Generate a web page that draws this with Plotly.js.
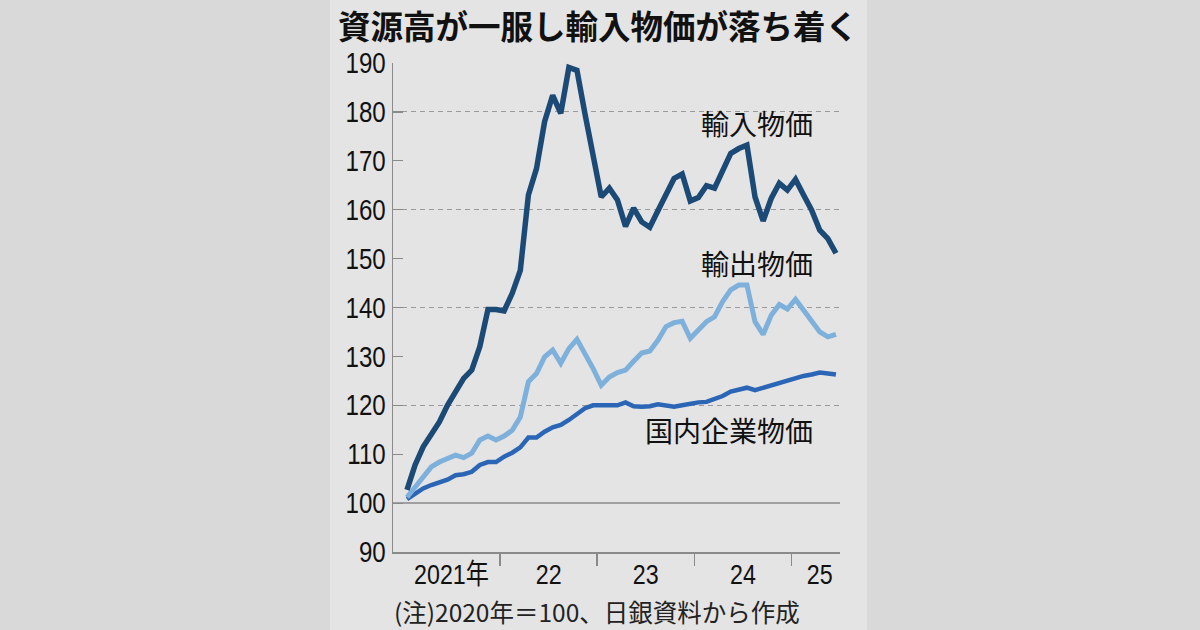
<!DOCTYPE html>
<html>
<head>
<meta charset="utf-8">
<script src="https://cdn.plot.ly/plotly-3.0.1.min.js"></script>
<style>
html,body{margin:0;padding:0;background:#d9d9d9;}
#chart{width:1200px;height:630px;}
</style>
</head>
<body>
<div id="chart"></div>
<script>
// Months from Jan 2021 (index 0) to Jun 2025 (index 53)
const monthIndex = Array.from({length: 54}, (_, i) => i);

const importPrice = [
  102.7, 107.8, 111.5, 114.3, 116.6, 120.0, 122.8, 125.5, 127.2, 132.0, 139.6, 139.6,
  139.3, 142.9, 147.6, 163.0, 168.4, 178.0, 183.4, 179.7, 189.1, 188.5, 179.5, 171.0,
  162.6, 164.4, 162.0, 156.6, 160.3, 157.5, 156.4, 159.8, 163.2, 166.4, 167.3, 161.8,
  162.5, 164.9, 164.4, 168.1, 171.5, 172.5, 173.2, 162.6, 157.7, 162.3, 165.4, 164.0,
  166.2, 163.0, 159.9, 155.8, 154.1, 151.1
];

const exportPrice = [
  101.2, 103.3, 105.7, 107.4, 108.4, 109.1, 109.8, 109.3, 110.2, 112.9, 113.7, 112.9,
  113.7, 114.9, 117.6, 124.8, 126.5, 129.9, 131.3, 128.6, 131.6, 133.5, 130.6, 127.5,
  124.1, 125.8, 126.7, 127.2, 129.0, 130.7, 131.1, 133.3, 136.1, 136.9, 137.2, 133.7,
  135.4, 137.1, 138.1, 141.2, 143.6, 144.6, 144.6, 137.1, 134.5, 138.4, 140.6, 139.7,
  141.7, 139.5, 137.4, 135.0, 134.0, 134.5
];

const domesticPrice = [
  100.8, 102.0, 103.0, 103.7, 104.2, 104.8, 105.7, 105.9, 106.4, 107.8, 108.4, 108.4,
  109.5, 110.3, 111.4, 113.4, 113.4, 114.6, 115.5, 116.0, 117.0, 118.2, 119.4, 120.0,
  120.0, 119.8, 120.0, 120.6, 119.8, 119.7, 119.8, 120.2, 119.9, 119.7, 120.0, 120.4,
  120.6, 120.7, 121.3, 121.9, 122.8, 123.1, 123.6, 123.1, 123.6, 124.1, 124.7, 125.2,
  125.6, 126.0, 126.3, 126.7, 126.5, 126.3
];

const seriesNames = ['輸入物価', '輸出物価', '国内企業物価'];
const yearLabels = ['2021年', '22', '23', '24', '25'];
const yearLabelPos = [5.5, 17.5, 29.5, 41.5, 51];
const yearBoundaries = [11.5, 23.5, 35.5, 47.5];
const yTicks = [90, 100, 110, 120, 130, 140, 150, 160, 170, 180, 190];
const dashedGrid = [120, 140, 160, 180];

const titleText = '資源高が一服し輸入物価が落ち着く';
const noteText = '(注)2020年＝100、日銀資料から作成';

const tickFamily = '"Liberation Sans", Arial, "Noto Sans CJK JP", sans-serif';
const jp = '"Noto Sans CJK JP", "Noto Sans", sans-serif';

const traces = [
  {x: [0], y: [100], yaxis: 'y2', mode: 'lines', hoverinfo: 'skip', showlegend: false, line: {width: 0}},
  {x: monthIndex, y: domesticPrice, mode: 'lines', name: seriesNames[2],
   line: {color: '#2a66b5', width: 4.5}},
  {x: monthIndex, y: exportPrice, mode: 'lines', name: seriesNames[1],
   line: {color: '#7eb0dc', width: 5}},
  {x: monthIndex, y: importPrice, mode: 'lines', name: seriesNames[0],
   line: {color: '#1c4a76', width: 5.5}}
];

const L = 393, R = 840, T = 63, B = 552;
const px = v => (v - L) / (R - L);
const py = v => (B - v) / (B - T);

const shapes = [
  {type: 'rect', xref: 'paper', yref: 'paper', x0: px(330), x1: px(867), y0: py(640), y1: py(-10),
   fillcolor: '#e4e4e4', line: {width: 0}, layer: 'below'},
  {type: 'line', xref: 'paper', yref: 'y', x0: 0, x1: 1, y0: 100, y1: 100,
   line: {color: '#8a8a8a', width: 1.5}, layer: 'below'}
];

const layout = {
  width: 1200, height: 630,
  margin: {l: L, r: 1200 - R, t: T, b: 630 - B, pad: 0},
  paper_bgcolor: '#d9d9d9',
  plot_bgcolor: 'rgba(0,0,0,0)',
  showlegend: false,
  xaxis: {
    range: [-1.73, 53.5], fixedrange: true,
    tickvals: yearLabelPos, ticktext: yearLabels, ticks: '',
    tickfont: {family: tickFamily, size: 28, color: '#111'},
    showline: true, linecolor: '#8a8a8a', linewidth: 1.5,
    showgrid: false, zeroline: false, ticklabelstandoff: -3,
    minor: {tickvals: yearBoundaries, ticks: 'outside', ticklen: 12, tickcolor: '#8a8a8a', tickwidth: 1.5, showgrid: false}
  },
  yaxis: {
    range: [90, 190], fixedrange: true,
    tickvals: yTicks, ticks: 'inside', ticklen: 10, tickcolor: '#8a8a8a', tickwidth: 1.2,
    tickfont: {family: tickFamily, size: 29, color: '#111'},
    showline: true, linecolor: '#8a8a8a', linewidth: 1.5,
    showgrid: false, zeroline: false, ticklabelstandoff: 0
  },
  yaxis2: {
    range: [90, 190], overlaying: 'y', fixedrange: true,
    tickvals: dashedGrid, showticklabels: false, ticks: '',
    showgrid: true, gridcolor: '#9a9a9a', gridwidth: 1, griddash: '5px,4px',
    showline: false, zeroline: false
  },
  shapes: shapes,
  annotations: [
    {xref: 'paper', yref: 'paper', x: px(336), y: py(24), text: '<b>' + titleText + '</b>', showarrow: false,
     xanchor: 'left', yanchor: 'middle', font: {family: jp, size: 32.5, color: '#111'}},
    {xref: 'x', yref: 'y', x: 50.4, y: 177.7, text: seriesNames[0], showarrow: false,
     xanchor: 'right', yanchor: 'middle', font: {family: jp, size: 28, color: '#111'}},
    {xref: 'x', yref: 'y', x: 50.4, y: 149.1, text: seriesNames[1], showarrow: false,
     xanchor: 'right', yanchor: 'middle', font: {family: jp, size: 28, color: '#111'}},
    {xref: 'x', yref: 'y', x: 50.4, y: 114.9, text: seriesNames[2], showarrow: false,
     xanchor: 'right', yanchor: 'middle', font: {family: jp, size: 28, color: '#111'}},
    {xref: 'paper', yref: 'paper', x: px(392), y: py(611), text: noteText, showarrow: false,
     xanchor: 'left', yanchor: 'middle', font: {family: jp, size: 24.5, color: '#222'}}
  ]
};

Plotly.newPlot('chart', traces, layout, {staticPlot: true, displayModeBar: false}).then(() => {
  // condensed look of the newspaper tick font
  document.querySelectorAll('.xtick text, .ytick text').forEach(t => {
    const w = t.getComputedTextLength();
    if (w > 0) {
      t.setAttribute('textLength', (w * 0.83).toFixed(1));
      t.setAttribute('lengthAdjust', 'spacingAndGlyphs');
    }
  });
});
</script>
</body>
</html>
